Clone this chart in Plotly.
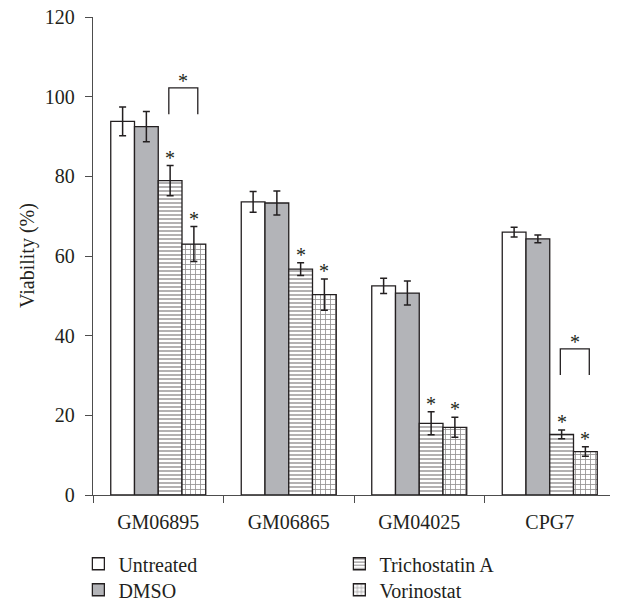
import plotly.graph_objects as go

categories = ["GM06895", "GM06865", "GM04025", "CPG7"]
series_names = ["Untreated", "DMSO", "Trichostatin A", "Vorinostat"]
untreated = [93.8, 73.6, 52.5, 66.0]
untreated_err = [3.6, 2.6, 1.9, 1.2]
dmso = [92.5, 73.3, 50.7, 64.3]
dmso_err = [3.8, 3.0, 3.0, 1.0]
tsa = [78.9, 56.7, 18.0, 15.2]
tsa_err = [3.8, 1.6, 2.9, 1.1]
vor = [63.0, 50.3, 17.0, 10.9]
vor_err = [4.4, 3.9, 2.5, 1.2]
starred_series = ["Trichostatin A", "Vorinostat"]
bracket_categories = ["GM06895", "CPG7"]
bracket_tops = [102.2, 36.7]
y_ticks = [0, 20, 40, 60, 80, 100, 120]

INK = "#231f20"
AXIS = "#4d4d4d"
FONT = "Liberation Serif, Times New Roman, serif"
values = [untreated, dmso, tsa, vor]
errors = [untreated_err, dmso_err, tsa_err, vor_err]
fills = ["white", "#b3b4b8", "white", "white"]
patterns = [None, None, dict(shape="-", size=4, solidity=0.35, fgcolor=INK, bgcolor="white"),
            dict(shape="+", size=5, solidity=0.3, fgcolor=INK, bgcolor="white")]
legend_ids = ["legend", "legend2", "legend3", "legend4"]
legend_xy = [(-0.028, -0.103), (-0.028, -0.1574), (0.472, -0.103), (0.472, -0.1574)]

bargap = 0.272
n = len(series_names)
bw = (1 - bargap) / n

fig = go.Figure()
for i, name in enumerate(series_names):
    marker = dict(color=fills[i], line=dict(color=INK, width=1.3))
    if patterns[i]:
        marker["pattern"] = patterns[i]
    fig.add_trace(go.Bar(
        name=name, x=categories, y=values[i], marker=marker,
        error_y=dict(type="data", array=errors[i], color=INK, thickness=1.5, width=3.5),
        legend=legend_ids[i], showlegend=True,
    ))

def offset(series_idx):
    return -(1 - bargap) / 2 + bw * (series_idx + 0.5)

# significance stars above bars
for name in starred_series:
    si = series_names.index(name)
    for ci in range(len(categories)):
        fig.add_annotation(x=ci + offset(si), y=values[si][ci] + errors[si][ci],
                           xref="x", yref="y", text="*", showarrow=False,
                           yanchor="bottom", yshift=-5,
                           font=dict(family=FONT, size=20, color=INK))

# brackets
a = series_names.index("Trichostatin A")
b = series_names.index("Vorinostat")
for cat, top in zip(bracket_categories, bracket_tops):
    ci = categories.index(cat)
    x0 = ci + offset(a) - 0.01
    x1 = ci + offset(b) + 0.03
    fig.add_shape(type="path", xref="x", yref="y",
                  path=f"M {x0} {top-6.6} L {x0} {top} L {x1} {top} L {x1} {top-6.6}",
                  line=dict(color=INK, width=1.3))
    fig.add_annotation(x=(x0 + x1) / 2, y=top, xref="x", yref="y", text="*",
                       showarrow=False, yanchor="bottom", yshift=-6,
                       font=dict(family=FONT, size=20, color=INK))

# y-axis title
fig.add_annotation(x=0, y=0.5, xref="paper", yref="paper", xshift=-66,
                   text="Viability (%)", textangle=-90, showarrow=False,
                   xanchor="center", yanchor="middle",
                   font=dict(family=FONT, size=20, color=INK))

legend_style = dict(orientation="v", yanchor="top", xanchor="left",
                    font=dict(family=FONT, size=20, color=INK),
                    bgcolor="rgba(0,0,0,0)", tracegroupgap=0, itemwidth=30)
legend_layout = {lid: dict(x=lx, y=ly, **legend_style) for lid, (lx, ly) in zip(legend_ids, legend_xy)}

# page body adds an 8px offset, so the figure is 8px smaller and shifted
fig.update_layout(
    width=610, height=595,
    margin=dict(l=85, r=3, t=9, b=108, autoexpand=False),
    paper_bgcolor="white", plot_bgcolor="white",
    showlegend=True,
    barmode="group", bargap=bargap, bargroupgap=0,
    font=dict(family=FONT, size=20, color=INK),
    **legend_layout,
    xaxis=dict(type="category", tickson="boundaries", ticks="outside", ticklen=7,
               tickwidth=1.3, tickcolor=AXIS, showline=True, linecolor=AXIS,
               linewidth=1.3, showgrid=False, zeroline=False, automargin=False,
               ticklabelstandoff=9, ticklabeloverflow="allow",
               tickfont=dict(family=FONT, size=20, color=INK)),
    yaxis=dict(range=[0, 120], tickvals=y_ticks, ticks="outside", ticklen=7,
               tickwidth=1.3, tickcolor=AXIS, showline=True, linecolor=AXIS,
               linewidth=1.3, showgrid=False, zeroline=False, automargin=False,
               ticklabelstandoff=6, ticklabeloverflow="allow",
               tickfont=dict(family=FONT, size=20, color=INK)),
)

fig.write_html("out.html")
